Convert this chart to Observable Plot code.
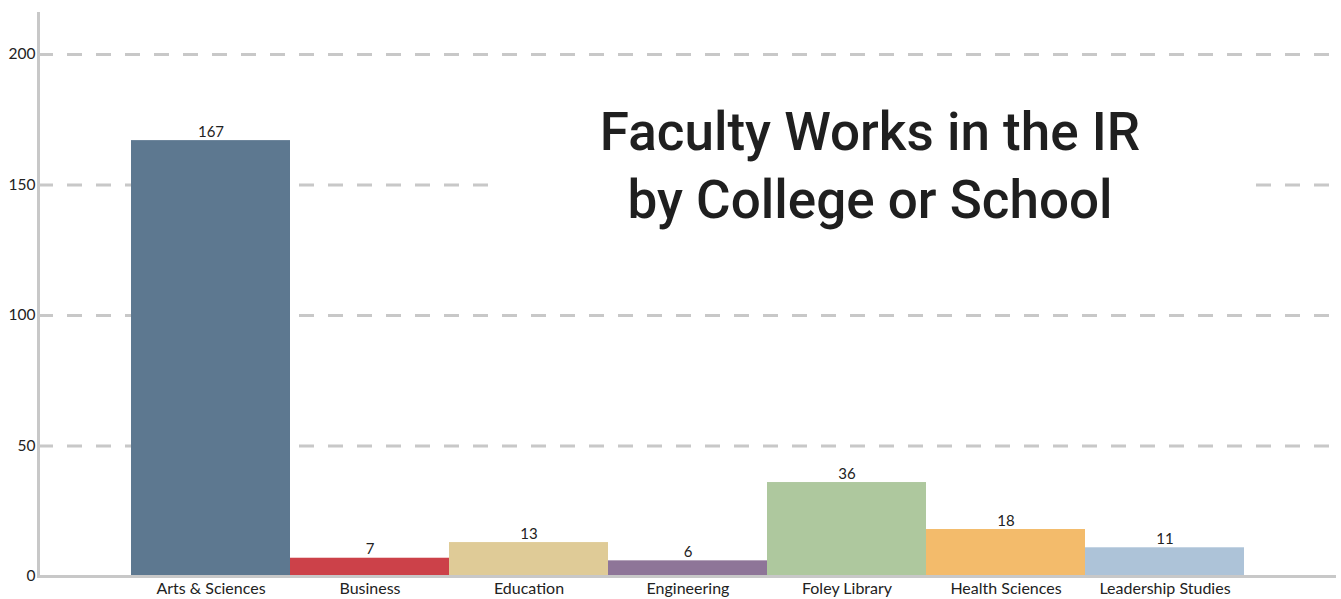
<!DOCTYPE html>
<html>
<head>
<meta charset="utf-8">
<script src="https://cdn.jsdelivr.net/npm/d3@7"></script>
<script src="https://cdn.jsdelivr.net/npm/@observablehq/plot@0.6"></script>
<style>
  html, body { margin: 0; padding: 0; background: #fff; }
  #wrap { position: relative; width: 1341px; height: 599px; }
  #title {
    position: absolute; left: 495px; top: 98px; width: 750px;
    background: #fff; text-align: center;
    font-family: Roboto, sans-serif; font-weight: 500; font-size: 53px; line-height: 68px;
    color: #1f1f1f;
  }
</style>
</head>
<body>
<div id="wrap"></div>
<script>
const colleges = ["Arts & Sciences", "Business", "Education", "Engineering", "Foley Library", "Health Sciences", "Leadership Studies"];
const counts = [167, 7, 13, 6, 36, 18, 11];
const colors = ["#5d7890", "#cc4149", "#dfcb97", "#8e7598", "#aec89e", "#f3bb6b", "#adc3d8"];
const yTicks = [0, 50, 100, 150, 200];
const titleLines = ["Faculty Works in the IR", "by College or School"];

const data = colleges.map((c, i) => ({college: c, count: counts[i]}));

const chart = Plot.plot({
  width: 1341,
  height: 599,
  marginLeft: 38,
  marginRight: 5,
  marginTop: 13,
  marginBottom: 23,
  style: {fontFamily: "Lato, sans-serif", color: "#222", background: "#fff"},
  x: {domain: colleges, paddingInner: 0, paddingOuter: 0.58, label: null},
  y: {domain: [0, 215.7], label: null},
  color: {domain: colleges, range: colors},
  marks: [
    Plot.gridY(yTicks, {stroke: "#c8c8c8", strokeOpacity: 1, strokeWidth: 3, strokeDasharray: "15,14"}),
    Plot.barY(data, {x: "college", y: "count", fill: "college"}),
    Plot.text(data, {x: "college", y: "count", text: d => String(d.count), lineAnchor: "bottom", dy: -4, fontSize: 15, fill: "#222"}),
    Plot.ruleY([0], {stroke: "#c8c8c8", strokeWidth: 3}),
    Plot.frame({anchor: "left", stroke: "#c8c8c8", strokeWidth: 3}),
    Plot.axisY({ticks: yTicks, tickSize: 0, tickPadding: 3, fontSize: 15.5, label: null}),
    Plot.axisX({tickSize: 0, tickPadding: 6, fontSize: 16, label: null})
  ]
});

const wrap = document.getElementById("wrap");
wrap.appendChild(chart);
const t = document.createElement("div");
t.id = "title";
titleLines.forEach(line => {
  const d = document.createElement("div");
  d.textContent = line;
  t.appendChild(d);
});
wrap.appendChild(t);
</script>
</body>
</html>
